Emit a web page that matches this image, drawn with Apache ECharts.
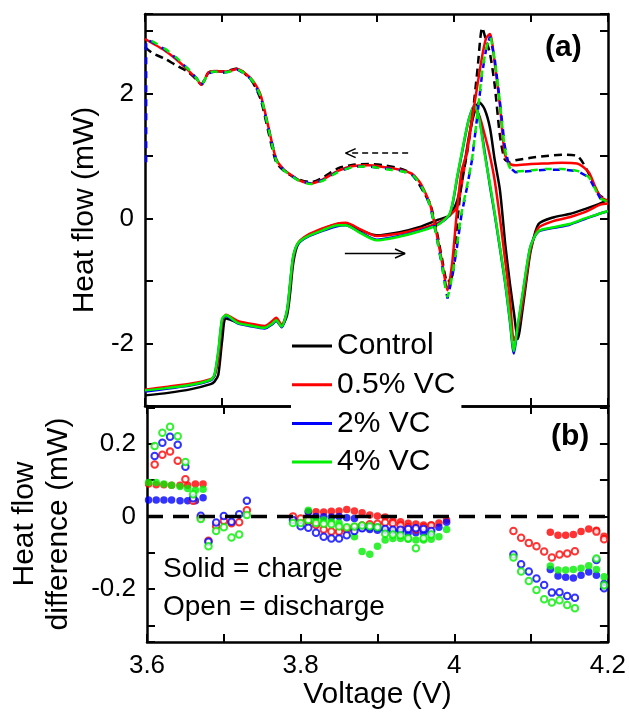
<!DOCTYPE html>
<html>
<head>
<meta charset="utf-8">
<script src="https://cdn.jsdelivr.net/npm/echarts@6/dist/echarts.min.js"></script>
<style>
  html, body { margin: 0; padding: 0; background: #fff; }
  #chart { width: 629px; height: 712px; }
</style>
</head>
<body>
<div id="chart"></div>
<script>
// (a) heat flow, charge = solid lines
const chgV = [3.600, 3.630, 3.660, 3.685, 3.690, 3.695, 3.700, 3.705, 3.720, 3.735,
  3.755, 3.765, 3.770, 3.777, 3.784, 3.788, 3.792, 3.798, 3.810, 3.830,
  3.850, 3.860, 3.880, 3.900, 3.930, 3.955, 3.980, 3.995, 4.005, 4.015,
  4.020, 4.027, 4.033, 4.040, 4.047, 4.053, 4.060, 4.067, 4.073, 4.078,
  4.083, 4.090, 4.096, 4.100, 4.110, 4.130, 4.150, 4.170, 4.190, 4.200];
const chgControl = [-2.83, -2.79, -2.73, -2.65, -2.61, -2.50, -1.95, -1.60, -1.66, -1.70,
  -1.74, -1.66, -1.61, -1.72, -1.55, -1.20, -0.72, -0.42, -0.28, -0.17,
  -0.09, -0.08, -0.19, -0.27, -0.22, -0.14, -0.02, 0.05, 0.30, 0.95,
  1.32, 1.70, 1.86, 1.75, 1.45, 0.95, 0.45, -0.43, -1.05, -1.50,
  -1.93, -1.39, -0.83, -0.51, -0.09, 0.02, 0.07, 0.15, 0.24, 0.30];
const chg05 = [-2.74, -2.69, -2.64, -2.57, -2.52, -2.25, -1.66, -1.54, -1.64, -1.68,
  -1.72, -1.64, -1.59, -1.70, -1.50, -1.10, -0.66, -0.40, -0.27, -0.16,
  -0.08, -0.07, -0.18, -0.28, -0.24, -0.17, -0.07, 0.05, 0.20, 0.90,
  1.30, 1.75, 1.65, 1.35, 1.00, 0.62, 0.00, -0.70, -1.30, -1.95,
  -1.80, -1.30, -0.78, -0.48, -0.15, -0.04, 0.02, 0.10, 0.22, 0.24];
const chg2 = [-2.77, -2.72, -2.67, -2.59, -2.51, -2.14, -1.62, -1.56, -1.68, -1.72,
  -1.76, -1.69, -1.64, -1.74, -1.48, -1.05, -0.62, -0.41, -0.30, -0.20,
  -0.12, -0.11, -0.23, -0.34, -0.28, -0.20, -0.09, 0.07, 0.68, 1.32,
  1.60, 1.82, 1.62, 1.08, 0.52, 0.08, -0.48, -1.06, -1.66, -2.16,
  -1.74, -1.17, -0.68, -0.43, -0.21, -0.15, -0.10, -0.01, 0.08, 0.11];
const chg4 = [-2.75, -2.71, -2.66, -2.58, -2.50, -2.12, -1.60, -1.55, -1.67, -1.71,
  -1.75, -1.68, -1.63, -1.73, -1.47, -1.04, -0.61, -0.40, -0.29, -0.19,
  -0.11, -0.11, -0.24, -0.35, -0.29, -0.21, -0.10, 0.08, 0.70, 1.33,
  1.60, 1.81, 1.60, 1.04, 0.55, 0.10, -0.46, -1.04, -1.63, -2.12,
  -1.71, -1.15, -0.67, -0.43, -0.20, -0.14, -0.09, 0.00, 0.08, 0.12];

// (a) heat flow, discharge = dashed lines
const disV = [3.600, 3.610, 3.625, 3.640, 3.655, 3.667, 3.673, 3.677, 3.682, 3.690,
  3.700, 3.710, 3.720, 3.730, 3.740, 3.750, 3.760, 3.770, 3.780, 3.790,
  3.800, 3.815, 3.830, 3.850, 3.870, 3.890, 3.910, 3.930, 3.945, 3.955,
  3.963, 3.970, 3.978, 3.985, 3.992, 3.998, 4.004, 4.010, 4.017, 4.024,
  4.031, 4.037, 4.042, 4.047, 4.053, 4.060, 4.066, 4.072, 4.080, 4.100,
  4.120, 4.140, 4.160, 4.175, 4.183, 4.190, 4.200];
const disControl = [2.74, 2.64, 2.56, 2.45, 2.35, 2.22, 2.14, 2.21, 2.33, 2.36,
  2.35, 2.37, 2.40, 2.31, 2.17, 1.90, 1.38, 0.90, 0.76, 0.68,
  0.62, 0.58, 0.65, 0.80, 0.86, 0.87, 0.85, 0.80, 0.72, 0.55,
  0.38, 0.22, -0.20, -0.65, -1.02, -0.92, -0.15, 0.55, 1.02, 1.60,
  2.40, 3.05, 2.85, 2.64, 2.15, 1.32, 0.95, 0.90, 0.93, 0.97,
  1.00, 1.02, 1.00, 0.72, 0.50, 0.36, 0.30];
const dis05 = [2.87, 2.80, 2.69, 2.55, 2.38, 2.23, 2.14, 2.21, 2.33, 2.36,
  2.35, 2.36, 2.39, 2.32, 2.20, 1.97, 1.46, 0.95, 0.78, 0.69,
  0.61, 0.56, 0.62, 0.76, 0.84, 0.85, 0.82, 0.78, 0.72, 0.60,
  0.42, 0.20, -0.25, -0.70, -1.15, -0.72, 0.08, 0.74, 1.05, 1.60,
  2.15, 2.60, 2.88, 2.95, 2.50, 1.80, 1.05, 0.88, 0.85, 0.87,
  0.88, 0.89, 0.88, 0.74, 0.52, 0.35, 0.28];
const dis2 = [2.86, 2.82, 2.71, 2.57, 2.40, 2.24, 2.13, 2.21, 2.32, 2.35,
  2.33, 2.35, 2.38, 2.31, 2.19, 1.95, 1.44, 0.93, 0.77, 0.68,
  0.60, 0.56, 0.61, 0.75, 0.83, 0.83, 0.80, 0.77, 0.71, 0.58,
  0.40, 0.18, -0.30, -0.77, -1.28, -0.95, -0.48, 0.05, 0.48, 0.95,
  1.68, 2.33, 2.70, 2.91, 2.57, 1.86, 1.17, 0.82, 0.74, 0.76,
  0.78, 0.78, 0.76, 0.66, 0.48, 0.32, 0.27];
const dis2EndV = [3.6015, 3.6015];   // 2% discharge trace ends with a drop at 3.6 V
const dis2End = [0.90, 2.86];
const dis4 = [2.88, 2.83, 2.72, 2.58, 2.40, 2.24, 2.13, 2.21, 2.32, 2.35,
  2.33, 2.35, 2.38, 2.31, 2.19, 1.95, 1.44, 0.93, 0.77, 0.68,
  0.60, 0.55, 0.60, 0.74, 0.82, 0.83, 0.79, 0.76, 0.71, 0.58,
  0.40, 0.18, -0.30, -0.75, -1.25, -0.92, -0.45, 0.08, 0.50, 0.97,
  1.70, 2.35, 2.70, 2.90, 2.55, 1.84, 1.15, 0.83, 0.75, 0.77,
  0.79, 0.79, 0.76, 0.66, 0.48, 0.32, 0.27];

// direction arrows in (a)
const arrowDisV = [3.941, 3.860];
const arrowDisY = [1.045, 1.045];
const arrowDisHeadV = [3.873, 3.860, 3.873];
const arrowDisHeadY = [1.117, 1.045, 0.973];
const arrowChgV = [3.859, 3.937];
const arrowChgY = [-0.56, -0.56];
const arrowChgHeadV = [3.924, 3.937, 3.924];
const arrowChgHeadY = [-0.488, -0.56, -0.632];

// (b) heat flow difference vs control, charge = solid dots
const dChgV = [3.602, 3.612, 3.622, 3.632, 3.643, 3.653, 3.663, 3.673,
  3.81, 3.82, 3.83, 3.84, 3.85, 3.86, 3.87, 3.88, 3.89, 3.90,
  3.91, 3.92, 3.93, 3.94, 3.95, 3.96, 3.97, 3.98, 3.99,
  4.125, 4.135, 4.145, 4.155, 4.165, 4.175, 4.185, 4.195];
const dChg05 = [0.089, 0.087, 0.087, 0.086, 0.086, 0.086, 0.089, 0.089,
  0.013, 0.013, 0.012, 0.014, 0.015, 0.019, 0.015, 0.010, 0.004, 0.001,
  -0.002, -0.012, -0.015, -0.019, -0.021, -0.024, -0.024, -0.018, -0.010,
  -0.044, -0.052, -0.052, -0.050, -0.042, -0.035, -0.038, -0.055];
const dChg2 = [0.045, 0.045, 0.045, 0.045, 0.043, 0.043, 0.043, 0.051,
  0.012, 0.000, -0.001, -0.002, 0.000, -0.004, -0.006, -0.033, -0.036, -0.038,
  -0.038, -0.040, -0.042, -0.045, -0.045, -0.045, -0.045, -0.030, -0.016,
  -0.146, -0.164, -0.168, -0.170, -0.162, -0.153, -0.162, -0.185];
const dChg4 = [0.093, 0.093, 0.089, 0.086, 0.082, 0.077, 0.072, 0.075,
  0.017, -0.006, -0.010, -0.015, -0.018, -0.033, -0.056, -0.097, -0.104, -0.082,
  -0.065, -0.061, -0.061, -0.063, -0.065, -0.065, -0.063, -0.056, -0.036,
  -0.137, -0.148, -0.148, -0.146, -0.143, -0.136, -0.146, -0.166];

// (b) discharge = open dots
const dDisV = [3.61, 3.62, 3.63, 3.64, 3.65, 3.66, 3.67, 3.68, 3.69, 3.70, 3.71, 3.72, 3.73,
  3.79, 3.80, 3.81, 3.82, 3.83, 3.84, 3.85, 3.86, 3.87, 3.88, 3.89, 3.90,
  3.91, 3.92, 3.93, 3.94, 3.95, 3.96, 3.97,
  4.077, 4.087, 4.097, 4.107, 4.117, 4.127, 4.137, 4.147, 4.157, 4.185, 4.195];
const dDis05 = [0.143, 0.170, 0.179, 0.153, 0.102, 0.043, -0.003, -0.067, -0.027, -0.012, -0.019, -0.016, 0.017,
  0.000, -0.006, -0.015, -0.024, -0.036, -0.042, -0.042, -0.036, -0.030, -0.025, -0.022, -0.020,
  -0.017, -0.019, -0.025, -0.030, -0.036, -0.030, -0.025,
  -0.040, -0.059, -0.073, -0.082, -0.097, -0.113, -0.105, -0.102, -0.096, -0.042, -0.063];
const dDis2 = [0.166, 0.203, 0.219, 0.197, 0.137, 0.050, 0.002, -0.070, -0.017, 0.001, -0.015, 0.006, 0.043,
  -0.010, -0.027, -0.031, -0.045, -0.056, -0.061, -0.061, -0.052, -0.040, -0.033, -0.030, -0.031,
  -0.035, -0.037, -0.037, -0.035, -0.033, -0.035, -0.040,
  -0.105, -0.132, -0.152, -0.171, -0.189, -0.210, -0.209, -0.219, -0.224, -0.120, -0.198];
const dDis4 = [0.194, 0.230, 0.247, 0.221, 0.150, 0.061, -0.007, -0.082, -0.040, -0.030, -0.058, -0.050, 0.004,
  -0.018, -0.018, -0.010, -0.018, -0.020, -0.022, -0.028, -0.030, -0.028, -0.025, -0.027, -0.030,
  -0.048, -0.050, -0.052, -0.060, -0.088, -0.060, -0.050,
  -0.113, -0.152, -0.178, -0.203, -0.228, -0.237, -0.231, -0.244, -0.253, -0.116, -0.190];

const zeroV = [3.6, 4.2];
const zeroY = [0, 0];

const legendNames = ['Control', '0.5% VC', '2% VC', '4% VC'];
const colors = ['#000000', '#ff0000', '#0000ff', '#00ee00'];

const FONT = 'Liberation Sans, Arial, sans-serif';
const pairs = (xs, ys) => xs.map((x, i) => [x, ys[i]]);

const chart = echarts.init(document.getElementById('chart'));

const axisLine = { onZero: false, lineStyle: { color: '#000', width: 2.5 } };
const tick = { inside: true, length: 8, lineStyle: { color: '#000', width: 2 } };

function xAx(grid, pos, labels) {
  return {
    type: 'value', gridIndex: grid, position: pos, min: 3.6, max: 4.2, interval: 0.1,
    axisLine: axisLine, axisTick: tick, splitLine: { show: false },
    axisLabel: labels ? {
      fontSize: 26, color: '#000', margin: 11, fontFamily: FONT,
      formatter: v => { const r = Math.round(v * 10); return r % 2 === 0 ? String(r / 10) : ''; }
    } : { show: false },
    name: labels ? 'Voltage (V)' : '', nameLocation: 'middle', nameGap: 36,
    nameTextStyle: { fontSize: 30, color: '#000', fontFamily: FONT }
  };
}

function lineSeries(name, xs, ys, color, dash, offset) {
  return {
    name: name, type: 'line', xAxisIndex: 0, yAxisIndex: 0,
    data: pairs(xs, ys), showSymbol: false, symbol: 'none', smooth: 0.25,
    color: color,
    lineStyle: { color: color, width: 2.5, type: dash || 'solid', dashOffset: offset || 0 }
  };
}

function dotSeries(name, xs, ys, color, open) {
  return {
    name: name, type: 'scatter', xAxisIndex: 2, yAxisIndex: 2,
    data: pairs(xs, ys),
    symbol: open ? 'emptyCircle' : 'circle', symbolSize: open ? 6.5 : 7.5,
    itemStyle: open ? { color: color, borderColor: color, borderWidth: 1.8 } : { color: color }
  };
}

const option = {
  animation: false,
  textStyle: { fontFamily: FONT },
  grid: [
    { left: 145, right: 21, top: 14, height: 392 },
    { left: 145, right: 21, top: 406, height: 236 }
  ],
  xAxis: [xAx(0, 'bottom', false), xAx(0, 'top', false), xAx(1, 'bottom', true), xAx(1, 'top', false)],
  yAxis: [
    {
      type: 'value', gridIndex: 0, position: 'left', min: -3, max: 3.27, interval: 1,
      axisLine: axisLine, axisTick: tick, splitLine: { show: false },
      axisLabel: {
        fontSize: 26, color: '#000', margin: 11, fontFamily: FONT,
        formatter: v => (Number.isInteger(v) && v % 2 === 0 && Math.abs(v) <= 2) ? String(v) : ''
      },
      name: 'Heat flow (mW)', nameLocation: 'middle', nameGap: 42,
      nameTextStyle: { fontSize: 30, color: '#000', fontFamily: FONT }
    },
    {
      type: 'value', gridIndex: 0, position: 'right', min: -3, max: 3.27, interval: 1,
      axisLine: axisLine, axisTick: tick, splitLine: { show: false }, axisLabel: { show: false }
    },
    {
      type: 'value', gridIndex: 1, position: 'left', min: -0.346, max: 0.304, splitNumber: 6,
      axisLine: axisLine, axisTick: tick, splitLine: { show: false },
      axisLabel: {
        fontSize: 26, color: '#000', margin: 11, fontFamily: FONT,
        formatter: v => {
          const r = Math.round(v * 10);
          return (Math.abs(v * 10 - r) < 1e-6 && (r === 2 || r === 0 || r === -2)) ? String(r / 10) : '';
        }
      },
      name: 'Heat flow\ndifference (mW)', nameLocation: 'middle', nameGap: 71,
      nameTextStyle: { fontSize: 30, lineHeight: 34, color: '#000', fontFamily: FONT }
    },
    {
      type: 'value', gridIndex: 1, position: 'right', min: -0.346, max: 0.304, splitNumber: 6,
      axisLine: axisLine, axisTick: tick, splitLine: { show: false }, axisLabel: { show: false }
    }
  ],
  legend: {
    data: legendNames, orient: 'vertical', left: 291, top: 328,
    icon: 'rect', itemWidth: 40, itemHeight: 3, itemGap: 8.7,
    textStyle: { fontSize: 30, lineHeight: 30, color: '#000', fontFamily: FONT },
    backgroundColor: '#fff', padding: [3, 6, 3, 1], selectedMode: false
  },
  title: [
    { text: '(a)', left: 545, top: 33, padding: 0, textStyle: { fontSize: 30, fontWeight: 'bold', color: '#000', fontFamily: FONT } },
    { text: '(b)', left: 551, top: 422, padding: 0, textStyle: { fontSize: 30, fontWeight: 'bold', color: '#000', fontFamily: FONT } },
    { text: 'Solid = charge', left: 163, top: 555, padding: 0, textStyle: { fontSize: 28, fontWeight: 'normal', color: '#000', fontFamily: FONT } },
    { text: 'Open = discharge', left: 163, top: 593, padding: 0, textStyle: { fontSize: 28, fontWeight: 'normal', color: '#000', fontFamily: FONT } }
  ],
  series: [
    lineSeries('Control', chgV, chgControl, colors[0]),
    lineSeries('0.5% VC', chgV, chg05, colors[1]),
    lineSeries('2% VC', chgV, chg2, colors[2]),
    lineSeries('4% VC', chgV, chg4, colors[3]),
    lineSeries('Control discharge', disV, disControl, colors[0], [8, 5]),
    lineSeries('0.5% VC discharge', disV, dis05, colors[1]),
    Object.assign(lineSeries('2% VC discharge', dis2EndV.concat(disV.slice(1)), dis2End.concat(dis2.slice(1)), colors[2], [7, 7]), { smooth: false }),
    lineSeries('4% VC discharge', disV, dis4, colors[3], [7, 7], 7),
    {
      name: 'arrow discharge', type: 'line', xAxisIndex: 0, yAxisIndex: 0, symbol: 'none',
      data: pairs(arrowDisV, arrowDisY), lineStyle: { color: '#000', width: 1.5, type: [6, 4] }
    },
    {
      name: 'arrow discharge head', type: 'line', xAxisIndex: 0, yAxisIndex: 0, symbol: 'none',
      data: pairs(arrowDisHeadV, arrowDisHeadY), lineStyle: { color: '#000', width: 1.5 }
    },
    {
      name: 'arrow charge', type: 'line', xAxisIndex: 0, yAxisIndex: 0, symbol: 'none',
      data: pairs(arrowChgV, arrowChgY), lineStyle: { color: '#000', width: 1.5 }
    },
    {
      name: 'arrow charge head', type: 'line', xAxisIndex: 0, yAxisIndex: 0, symbol: 'none',
      data: pairs(arrowChgHeadV, arrowChgHeadY), lineStyle: { color: '#000', width: 1.5 }
    },
    {
      name: 'zero', type: 'line', xAxisIndex: 2, yAxisIndex: 2, symbol: 'none',
      data: pairs(zeroV, zeroY), lineStyle: { color: '#000', width: 3.5, type: [16, 10] }
    },
    dotSeries('0.5% VC charge diff', dChgV, dChg05, colors[1], false),
    dotSeries('2% VC charge diff', dChgV, dChg2, colors[2], false),
    dotSeries('4% VC charge diff', dChgV, dChg4, colors[3], false),
    dotSeries('0.5% VC discharge diff', dDisV, dDis05, colors[1], true),
    dotSeries('2% VC discharge diff', dDisV, dDis2, colors[2], true),
    dotSeries('4% VC discharge diff', dDisV, dDis4, colors[3], true)
  ]
};

chart.setOption(option);
</script>
</body>
</html>
